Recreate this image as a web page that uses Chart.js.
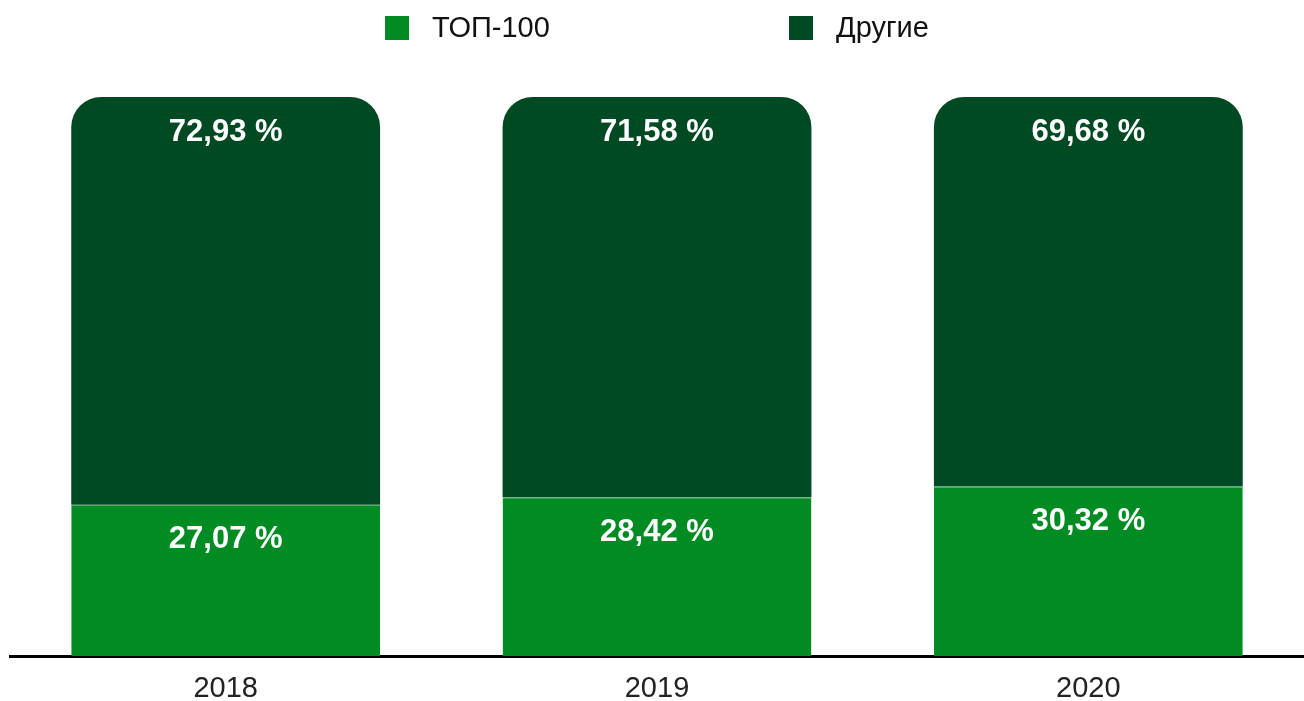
<!DOCTYPE html>
<html>
<head>
<meta charset="utf-8">
<script src="https://cdn.jsdelivr.net/npm/chart.js@4"></script>
<style>
  html, body { margin: 0; padding: 0; background: #fff; }
  #wrap { width: 1304px; height: 701px; }
</style>
</head>
<body>
<div id="wrap"><canvas id="myChart"></canvas></div>
<script>
var years = ["2018", "2019", "2020"];
var top100 = [27.07, 28.42, 30.32];
var others = [72.93, 71.58, 69.68];
var seriesNames = ["ТОП-100", "Другие"];
var colors = ["#008c23", "#004a23"];

var fontFamily = "'Liberation Sans', Arial, sans-serif";

// value labels near the top of each segment
var valueLabels = {
  id: 'valueLabels',
  afterDatasetsDraw: function(chart) {
    var ctx = chart.ctx;
    ctx.save();
    ctx.fillStyle = '#fff';
    ctx.font = 'bold 31px ' + fontFamily;
    ctx.textAlign = 'center';
    ctx.textBaseline = 'middle';
    chart.data.datasets.forEach(function(ds, i) {
      var meta = chart.getDatasetMeta(i);
      meta.data.forEach(function(bar, j) {
        var txt = ds.data[j].toFixed(2).replace('.', ',') + ' %';
        ctx.fillText(txt, bar.x, bar.y + 35);
      });
    });
    ctx.restore();
  }
};

// legend drawn by hand, the items sit far apart
var topLegend = {
  id: 'topLegend',
  afterDraw: function(chart) {
    var ctx = chart.ctx;
    var itemX = [385, 789];
    ctx.save();
    ctx.font = '29px ' + fontFamily;
    ctx.textBaseline = 'middle';
    chart.data.datasets.forEach(function(ds, i) {
      ctx.fillStyle = ds.backgroundColor;
      ctx.fillRect(itemX[i], 16, 24, 24);
      ctx.fillStyle = '#111';
      ctx.fillText(ds.label, itemX[i] + 47, 29);
    });
    ctx.restore();
  }
};

var data = {
  labels: years,
  datasets: [{
    label: seriesNames[0],
    data: top100,
    backgroundColor: colors[0],
    borderColor: '#3ba355',
    borderWidth: { top: 1, left: 0, right: 0, bottom: 0 },
    borderSkipped: 'bottom',
    borderRadius: 0
  }, {
    label: seriesNames[1],
    data: others,
    backgroundColor: colors[1],
    borderWidth: 0,
    borderRadius: { topLeft: 30, topRight: 30, bottomLeft: 0, bottomRight: 0 },
    borderSkipped: false
  }]
};

var config = {
  type: 'bar',
  data: data,
  options: {
    responsive: true,
    maintainAspectRatio: false,
    animation: false,
    layout: { padding: { top: 97, left: 10, right: 0, bottom: -20 } },
    datasets: { bar: { categoryPercentage: 1, barPercentage: 0.716 } },
    plugins: {
      legend: { display: false },
      tooltip: { enabled: false }
    },
    scales: {
      x: {
        stacked: true,
        grid: { display: false, drawTicks: false },
        border: { display: true, color: '#000', width: 3 },
        ticks: {
          color: '#222',
          padding: 18,
          font: { family: fontFamily, size: 29, lineHeight: 1 }
        }
      },
      y: {
        stacked: true,
        display: false,
        min: 0,
        max: 100
      }
    }
  },
  plugins: [valueLabels, topLegend]
};

var myChart = new Chart(document.getElementById('myChart'), config);
</script>
</body>
</html>
